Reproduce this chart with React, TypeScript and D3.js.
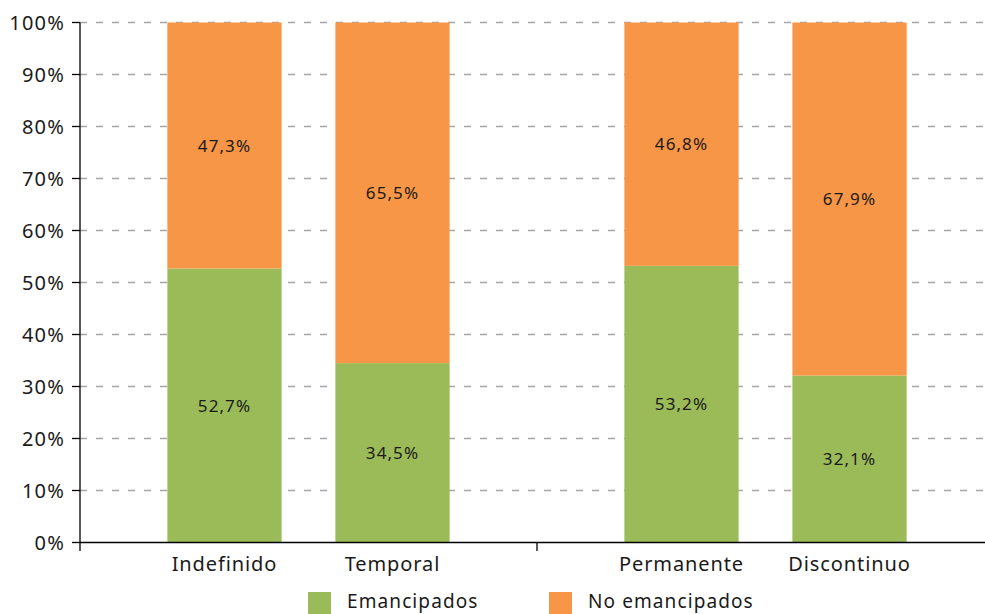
import * as d3 from 'd3';
import React from 'react';

// tipos de contrato, en dos grupos separados en el eje
const groups = [
  ['Indefinido', 'Temporal'],
  ['Permanente', 'Discontinuo'],
];
const emancipados = [52.7, 34.5, 53.2, 32.1];
const noEmancipados = [47.3, 65.5, 46.8, 67.9];
const yTicks = [0, 10, 20, 30, 40, 50, 60, 70, 80, 90, 100];
const seriesNames = ['Emancipados', 'No emancipados'];
const colors = ['#9bbb59', '#f79646'];

const width = 985;
const height = 614;
const margin = { top: 22.5, left: 80, bottom: 71.5 };
const font = "'Noto Sans', sans-serif";

export default function App() {
  const y = d3.scaleLinear().domain([0, 100]).range([height - margin.bottom, margin.top]);

  const outer = d3.scaleBand()
    .domain(groups.map((g, i) => String(i)))
    .range([margin.left, margin.left + 2 * 457])
    .padding(0);

  const inner = d3.scaleBand()
    .domain(['0', '1'])
    .range([0, outer.bandwidth()])
    .paddingInner(0.32)
    .paddingOuter(0.52);

  const cats = groups.flatMap((g, gi) =>
    g.map((name, ci) => ({ name, x: outer(String(gi))! + inner(String(ci))! }))
  );

  const stacked = d3.stack<number>()
    .keys(['0', '1'])
    .value((i, k) => (k === '0' ? emancipados[i] : noEmancipados[i]))(cats.map((c, i) => i));

  const fmt = (v: number) => v.toFixed(1).replace('.', ',') + '%';
  const base = y(0);

  return (
    <svg width={width} height={height} style={{ position: 'absolute', left: 0, top: 0 }} fontFamily={font}>
      {yTicks.filter(t => t > 0).map(t => (
        <line key={t} x1={margin.left} x2={width} y1={y(t)} y2={y(t)} stroke="#a6a6a6" strokeWidth={1.3} strokeDasharray="7 9" />
      ))}
      {stacked.map((s, si) => (
        <g key={si} fill={colors[si]}>
          {s.map((d, i) => (
            <rect key={i} x={cats[i].x} width={inner.bandwidth()} y={y(d[1])} height={y(d[0]) - y(d[1])} />
          ))}
        </g>
      ))}
      {stacked.map((s, si) => (
        <g key={'l' + si} fontSize={17} fill="#1a1a1a" textAnchor="middle" letterSpacing={1.1}>
          {s.map((d, i) => (
            <text key={i} x={cats[i].x + inner.bandwidth() / 2} y={(y(d[0]) + y(d[1])) / 2} dy="0.36em">
              {fmt(d[1] - d[0])}
            </text>
          ))}
        </g>
      ))}
      {/* ejes */}
      <line x1={margin.left} x2={margin.left} y1={margin.top} y2={base} stroke="#000" strokeWidth={1.3} />
      <line x1={margin.left} x2={width} y1={base} y2={base} stroke="#000" strokeWidth={1.3} />
      {yTicks.map(t => (
        <g key={t}>
          <line x1={margin.left - 8} x2={margin.left} y1={y(t)} y2={y(t)} stroke="#000" strokeWidth={1.3} />
          <text x={65} y={y(t)} dy="0.36em" textAnchor="end" fontSize={20} fill="#1a1a1a" letterSpacing={1.2}>{t}%</text>
        </g>
      ))}
      {outer.domain().map(g => (
        <line key={g} x1={outer(g)!} x2={outer(g)!} y1={base} y2={base + 8.5} stroke="#000" strokeWidth={1.3} />
      ))}
      {cats.map(c => (
        <text key={c.name} x={c.x + inner.bandwidth() / 2} y={571} textAnchor="middle" fontSize={20} fill="#1a1a1a" letterSpacing={0.9}>{c.name}</text>
      ))}
      {/* leyenda */}
      {seriesNames.map((n, i) => (
        <g key={n} transform={`translate(${[308, 549][i]},592)`}>
          <rect width={23} height={23} fill={colors[i]} />
          <text x={39} y={16} fontSize={19} fill="#1a1a1a" letterSpacing={1.1}>{n}</text>
        </g>
      ))}
    </svg>
  );
}
